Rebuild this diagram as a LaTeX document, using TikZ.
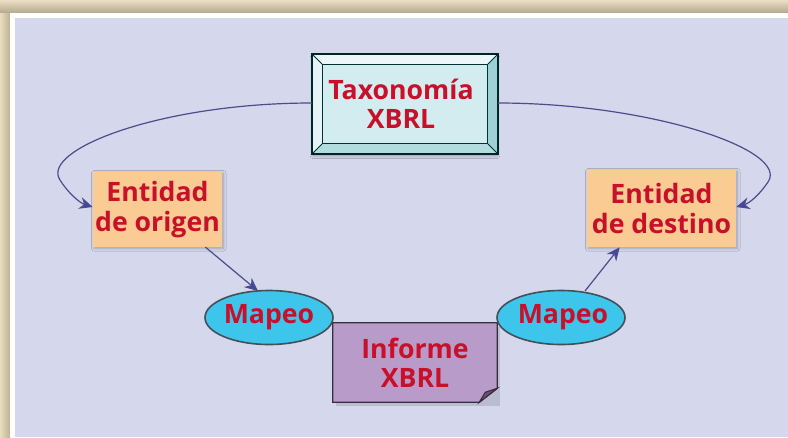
\documentclass[tikz,border=0pt]{standalone}
\usepackage{fontspec}
\setmainfont{Open Sans}
\usetikzlibrary{calc,arrows.meta,shadows.blur}
\definecolor{tan}{HTML}{E6D8B6}
\definecolor{tandark}{HTML}{B3A78D}
\definecolor{lav}{HTML}{D5D7EC}
\definecolor{txtred}{HTML}{C8102A}
\definecolor{taxfill}{HTML}{D3ECF0}
\definecolor{entfill}{HTML}{FBCB94}
\definecolor{mapfill}{HTML}{3EC5EC}
\definecolor{inffill}{HTML}{B99BC9}
\definecolor{infdark}{HTML}{6E4F78}
\definecolor{arrline}{HTML}{4E4A8C}
\definecolor{arrhead}{HTML}{3A48A8}
\tikzset{
  lbl/.style={text=txtred, font=\bfseries\fontsize{20}{22}\selectfont, align=center, inner sep=0pt},
  entbox/.style={lbl, fill=entfill, blur shadow={shadow blur steps=6, shadow xshift=1pt, shadow yshift=-1pt, shadow opacity=25}},
  conn/.style={draw=arrline, line width=0.9pt, -{Stealth[length=10pt,width=9pt,fill=arrhead]}},
}
\begin{document}
\begin{tikzpicture}[x=0.75pt,y=-0.75pt]
\useasboundingbox (0,0) rectangle (788,437);
% frame
\fill[tan] (0,0) rectangle (788,437);
\shade[top color=tan!80!white, bottom color=tandark] (0,0) rectangle (788,13);
\shade[left color=tan!85!white, right color=tandark!80!tan] (0,13) rectangle (10,437);
\fill[white] (10,13) rectangle (788,437);
\fill[lav] (15,18) rectangle (788,437);
% Taxonomia
\node[lbl, minimum width=184*0.75pt, minimum height=98*0.75pt, fill=taxfill, draw=black!70!teal, line width=1.2pt,
      blur shadow={shadow blur steps=6, shadow xshift=0pt, shadow yshift=-2pt, shadow opacity=30}] (tax) at (405,104) {};
\fill[white!60!taxfill] (tax.north west) -- (tax.north east) -- ($(tax.north east)+(-10,10)$) -- ($(tax.north west)+(10,10)$) -- cycle;
\fill[white!40!taxfill] (tax.north west) -- ($(tax.north west)+(10,10)$) -- ($(tax.south west)+(10,-10)$) -- (tax.south west) -- cycle;
\fill[taxfill!75!teal] (tax.north east) -- ($(tax.north east)+(-10,10)$) -- ($(tax.south east)+(-10,-10)$) -- (tax.south east) -- cycle;
\fill[taxfill!85!teal] (tax.south west) -- ($(tax.south west)+(10,-10)$) -- ($(tax.south east)+(-10,-10)$) -- (tax.south east) -- cycle;
\draw[black!60!teal, line width=0.6pt] ($(tax.north west)+(10,10)$) rectangle ($(tax.south east)+(-10,-10)$);
\draw[black!60!teal, line width=0.6pt] (tax.north west) -- ($(tax.north west)+(10,10)$)
  (tax.north east) -- ($(tax.north east)+(-10,10)$)
  (tax.south west) -- ($(tax.south west)+(10,-10)$)
  (tax.south east) -- ($(tax.south east)+(-10,-10)$);
\draw[black!70!teal, line width=1.2pt] (tax.north west) rectangle (tax.south east);
\node[lbl] (taxt) at (401,104) {Taxonomía\\XBRL};
% Entidades
\node[entbox, minimum width=129*0.75pt, minimum height=75*0.75pt] (eo) at (157.5,209.5) {Entidad\\de origen};
\node[entbox, minimum width=149*0.75pt, minimum height=77*0.75pt] (ed) at (661.5,208.5) {Entidad\\de destino};
% Informe
\node[lbl, minimum width=164*0.75pt, minimum height=79*0.75pt] (inf) at (415,362.5) {};
\fill[black, opacity=0.12] ($(inf.north west)+(3,4)$) rectangle ($(inf.south east)+(3,4)$);
\filldraw[fill=inffill, draw=black!70!inffill, line width=1pt]
  (inf.north west) -- (inf.north east) -- ($(inf.south east)+(0,-14)$) -- ($(inf.south east)+(-18,0)$) -- (inf.south west) -- cycle;
\filldraw[fill=infdark, draw=black!70!inffill, line width=0.8pt]
  ($(inf.south east)+(0,-14)$) -- ($(inf.south east)+(-12,-10)$) -- ($(inf.south east)+(-18,0)$) -- cycle;
\node[lbl] (inft) at (415,363) {Informe\\XBRL};
% Mapeo
\draw[draw=black!75!cyan, line width=1.2pt, fill=mapfill] (269,317.5) ellipse [x radius=64, y radius=27];
\node[lbl] (m1) at (269,317.5) {Mapeo};
\draw[draw=black!75!cyan, line width=1.2pt, fill=mapfill] (561,317.5) ellipse [x radius=64, y radius=27];
\node[lbl] (m2) at (563,317.5) {Mapeo};
\coordinate (m1top) at (258,291);
\coordinate (m2top) at (585,291);
% connectors
\draw[conn] (tax.west |- 0,103) .. controls (160,103) and (40,150) .. (60,180) .. controls (68,193) and (80,203) .. (eo.west |- 0,207);
\draw[conn] (tax.east |- 0,103) .. controls (650,103) and (790,150) .. (768,182) .. controls (760,194) and (750,203) .. (ed.east |- 0,207);
\draw[conn] (eo.south east |- 0,247) ++(-17,0) coordinate (eos) (eos) -- (m1top);
\draw[conn] (m2top) -- ($(ed.south west)+(33,0)$);
\end{tikzpicture}
\end{document}
